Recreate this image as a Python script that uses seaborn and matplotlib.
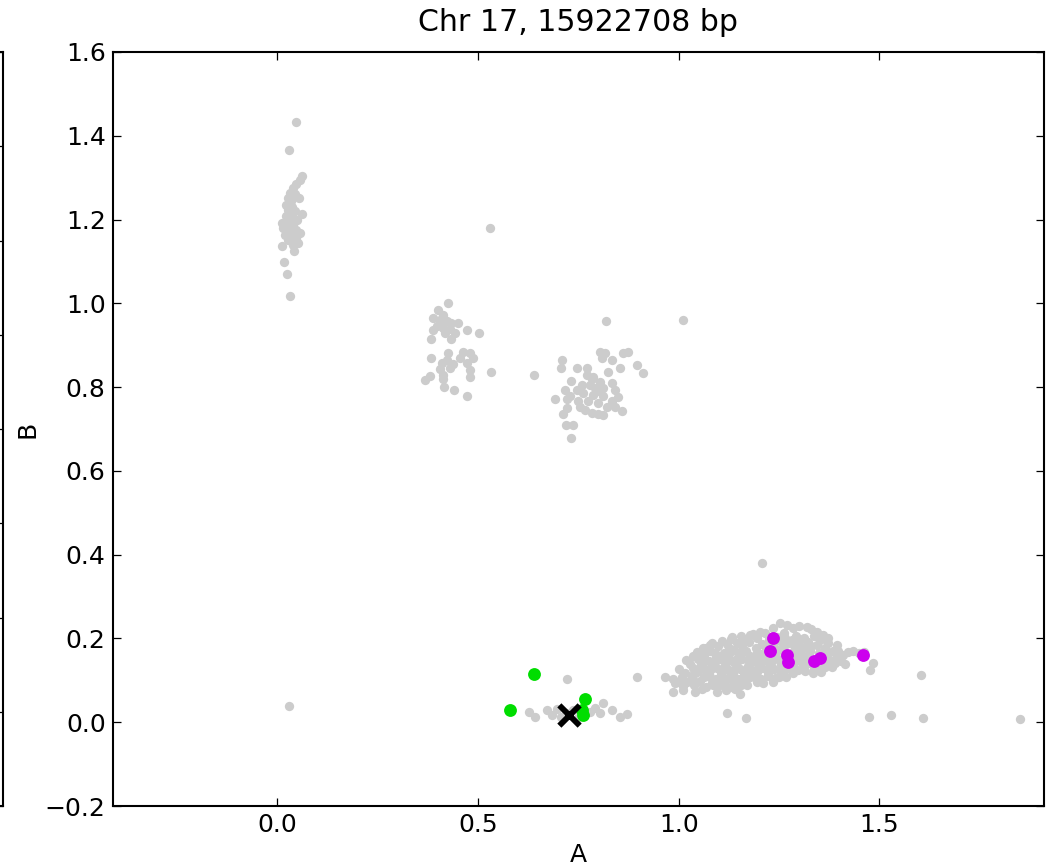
import matplotlib
matplotlib.use("Agg")
import matplotlib.pyplot as plt
import seaborn as sns
import pandas as pd

# ---------------- data ----------------
title_text = "Chr 17, 15922708 bp"
x_label = "A"
y_label = "B"
x_ticks = [0.0, 0.5, 1.0, 1.5]
y_ticks = [-0.2, 0.0, 0.2, 0.4, 0.6, 0.8, 1.0, 1.2, 1.4, 1.6]

cluster_top = [
    (0.047, 1.432), (0.029, 1.367), (0.063, 1.305), (0.057, 1.295), (0.048, 1.286),
    (0.040, 1.275), (0.032, 1.263), (0.027, 1.251), (0.055, 1.251), (0.023, 1.235),
    (0.036, 1.231), (0.027, 1.223), (0.063, 1.214), (0.023, 1.208), (0.036, 1.204),
    (0.011, 1.192), (0.023, 1.188), (0.040, 1.188), (0.015, 1.180), (0.032, 1.176),
    (0.048, 1.176), (0.058, 1.169), (0.019, 1.164), (0.036, 1.160), (0.048, 1.156),
    (0.027, 1.150), (0.052, 1.144), (0.013, 1.138), (0.040, 1.140), (0.042, 1.126),
    (0.018, 1.098), (0.025, 1.071), (0.031, 1.018), (0.030, 1.212), (0.045, 1.220),
    (0.035, 1.245), (0.050, 1.200), (0.040, 1.170), (0.030, 1.195), (0.044, 1.262),
]

cluster_mid = [
    (0.425, 1.000), (0.401, 0.983), (0.414, 0.973), (0.387, 0.965), (0.405, 0.961),
    (0.422, 0.957), (0.434, 0.954), (0.451, 0.953), (0.397, 0.945), (0.414, 0.941),
    (0.430, 0.939), (0.472, 0.937), (0.503, 0.930), (0.389, 0.937), (0.418, 0.929),
    (0.443, 0.929), (0.382, 0.915), (0.434, 0.915), (0.425, 0.881), (0.463, 0.883),
    (0.480, 0.881), (0.382, 0.869), (0.422, 0.865), (0.455, 0.869), (0.488, 0.869),
    (0.410, 0.857), (0.438, 0.856), (0.472, 0.857), (0.405, 0.843), (0.430, 0.845),
    (0.480, 0.841), (0.380, 0.827), (0.414, 0.829), (0.480, 0.825), (0.532, 0.835),
    (0.368, 0.816), (0.416, 0.800), (0.440, 0.794), (0.472, 0.779), (0.414, 0.819),
    (0.530, 1.180),
]

cluster_right = [
    (0.819, 0.959), (0.640, 0.829), (0.804, 0.883), (0.816, 0.881), (0.862, 0.881),
    (0.874, 0.885), (0.808, 0.869), (0.833, 0.864), (0.710, 0.865), (0.706, 0.845),
    (0.746, 0.845), (0.771, 0.845), (0.854, 0.845), (0.895, 0.853), (0.912, 0.834),
    (0.825, 0.837), (0.771, 0.829), (0.787, 0.825), (0.733, 0.815), (0.804, 0.813),
    (0.833, 0.811), (0.779, 0.806), (0.717, 0.794), (0.746, 0.794), (0.791, 0.798),
    (0.812, 0.798), (0.841, 0.794), (0.762, 0.786), (0.787, 0.782), (0.729, 0.779),
    (0.692, 0.771), (0.721, 0.771), (0.812, 0.778), (0.850, 0.776), (0.750, 0.766),
    (0.775, 0.766), (0.800, 0.763), (0.833, 0.766), (0.754, 0.752), (0.821, 0.752),
    (0.841, 0.752), (0.721, 0.750), (0.767, 0.746), (0.858, 0.744), (0.783, 0.739),
    (0.800, 0.736), (0.812, 0.734), (0.712, 0.736), (0.719, 0.710), (0.737, 0.710),
    (0.731, 0.678), (0.796, 0.790), (0.783, 0.820), (0.760, 0.805),
]

cluster_low = [
    (0.722, 0.103), (0.895, 0.109), (0.628, 0.025), (0.642, 0.013), (0.671, 0.029),
    (0.684, 0.017), (0.696, 0.031), (0.708, 0.013), (0.737, 0.029), (0.750, 0.010),
    (0.779, 0.025), (0.791, 0.033), (0.804, 0.021), (0.812, 0.045), (0.833, 0.029),
    (0.854, 0.013), (0.872, 0.020), (0.029, 0.039), (0.720, 0.022), (0.765, 0.020),
]

cluster_big = [
    (1.252, 0.236), (1.269, 0.232), (1.300, 0.229), (1.319, 0.228), (1.236, 0.226),
    (1.202, 0.216), (1.178, 0.208), (1.156, 0.206), (1.132, 0.204), (1.344, 0.216),
    (1.360, 0.209), (1.373, 0.201), (1.385, 0.169), (1.410, 0.161), (1.435, 0.169),
    (1.485, 0.141), (1.477, 0.125), (1.078, 0.185), (1.061, 0.177), (1.395, 0.185),
    (1.330, 0.222), (1.285, 0.226),
    (1.185, 0.211), (1.215, 0.213), (1.262, 0.214), (1.292, 0.207), (1.338, 0.205),
    (1.130, 0.198), (1.162, 0.197), (1.195, 0.201), (1.226, 0.199), (1.282, 0.196),
    (1.312, 0.202), (1.352, 0.196), (1.372, 0.188),
    (1.083, 0.188), (1.108, 0.193), (1.145, 0.189), (1.176, 0.192), (1.208, 0.186),
    (1.252, 0.193), (1.298, 0.188), (1.322, 0.191), (1.345, 0.184),
    (1.068, 0.176), (1.098, 0.181), (1.125, 0.178), (1.158, 0.182), (1.192, 0.177),
    (1.215, 0.181), (1.262, 0.183), (1.290, 0.176), (1.312, 0.179), (1.365, 0.178),
    (1.045, 0.168), (1.078, 0.171), (1.112, 0.166), (1.138, 0.172), (1.168, 0.169),
    (1.195, 0.165), (1.248, 0.172), (1.302, 0.167), (1.328, 0.171), (1.372, 0.166),
    (1.398, 0.171), (1.422, 0.168),
    (1.035, 0.158), (1.062, 0.161), (1.092, 0.157), (1.118, 0.162), (1.148, 0.156),
    (1.178, 0.159), (1.205, 0.162), (1.236, 0.156), (1.290, 0.161), (1.318, 0.157),
    (1.362, 0.159), (1.392, 0.154), (1.448, 0.165), (1.462, 0.168),
    (1.018, 0.148), (1.048, 0.151), (1.075, 0.146), (1.102, 0.150), (1.132, 0.147),
    (1.158, 0.152), (1.188, 0.146), (1.215, 0.149), (1.248, 0.151), (1.302, 0.146),
    (1.328, 0.141), (1.375, 0.148), (1.405, 0.146),
    (1.028, 0.138), (1.056, 0.136), (1.085, 0.141), (1.115, 0.137), (1.142, 0.139),
    (1.172, 0.135), (1.198, 0.140), (1.228, 0.137), (1.256, 0.139), (1.285, 0.136),
    (1.312, 0.132), (1.348, 0.136), (1.382, 0.133), (1.415, 0.138),
    (1.002, 0.127), (1.035, 0.129), (1.065, 0.126), (1.095, 0.130), (1.125, 0.125),
    (1.152, 0.128), (1.182, 0.124), (1.208, 0.129), (1.238, 0.126), (1.268, 0.128),
    (1.298, 0.124), (1.338, 0.126), (1.365, 0.131),
    (1.016, 0.117), (1.045, 0.119), (1.075, 0.115), (1.105, 0.118), (1.135, 0.114),
    (1.162, 0.118), (1.192, 0.113), (1.222, 0.117), (1.255, 0.115), (1.285, 0.117),
    (1.335, 0.117), (1.355, 0.121),
    (0.966, 0.107), (0.985, 0.104), (1.008, 0.108), (1.032, 0.105), (1.062, 0.107),
    (1.092, 0.104), (1.122, 0.106), (1.148, 0.103), (1.178, 0.107), (1.205, 0.104),
    (1.240, 0.106), (1.268, 0.109),
    (0.995, 0.097), (1.022, 0.095), (1.052, 0.098), (1.082, 0.094), (1.112, 0.097),
    (1.138, 0.094), (1.165, 0.098), (1.194, 0.097), (1.236, 0.097),
    (0.991, 0.093), (1.012, 0.086), (1.038, 0.088), (1.068, 0.085), (1.098, 0.087),
    (1.128, 0.084), (1.155, 0.088),
    (0.987, 0.073), (1.011, 0.077), (1.041, 0.073), (1.058, 0.079), (1.095, 0.073),
    (1.118, 0.077), (1.153, 0.067), (1.140, 0.080),
    (1.120, 0.021), (1.168, 0.010), (1.475, 0.012), (1.528, 0.017), (1.609, 0.010),
    (1.603, 0.112), (1.850, 0.007), (1.208, 0.381), (1.012, 0.961),
]

cluster_big_core = [
    (1.120, 0.186), (1.235, 0.184), (1.275, 0.188), (1.330, 0.183),
    (1.090, 0.166), (1.125, 0.163), (1.155, 0.167), (1.220, 0.166), (1.265, 0.163),
    (1.285, 0.168), (1.350, 0.165),
    (1.060, 0.144), (1.090, 0.147), (1.118, 0.145), (1.145, 0.143), (1.175, 0.146),
    (1.200, 0.150), (1.232, 0.145), (1.262, 0.146), (1.285, 0.149), (1.315, 0.150),
    (1.360, 0.143), (1.390, 0.142),
    (1.050, 0.124), (1.080, 0.127), (1.110, 0.124), (1.140, 0.127), (1.168, 0.123),
    (1.195, 0.121), (1.225, 0.125), (1.252, 0.123), (1.282, 0.127), (1.315, 0.122),
    (1.035, 0.112), (1.078, 0.109), (1.108, 0.111), (1.135, 0.108), (1.162, 0.111),
    (1.190, 0.108), (1.222, 0.110), (1.250, 0.107),
    (1.085, 0.090), (1.112, 0.089), (1.142, 0.091), (1.170, 0.090), (1.210, 0.093),
    (1.245, 0.203), (1.265, 0.202), (1.298, 0.199),
]

green_x = [0.640, 0.581, 0.767, 0.762, 0.758]
green_y = [0.115, 0.029, 0.056, 0.017, 0.030]

magenta_x = [1.236, 1.227, 1.271, 1.273, 1.338, 1.352, 1.460]
magenta_y = [0.201, 0.171, 0.160, 0.143, 0.147, 0.153, 0.161]

cross_x = [0.727]
cross_y = [0.018]

gray_color = "#cccccc"
green_color = "#00dd00"
magenta_color = "#cc00ee"

# ---------------- style ----------------
sns.set_theme(style="ticks", rc={
    "xtick.direction": "in", "ytick.direction": "in",
    "xtick.top": True, "ytick.right": True,
    "xtick.major.size": 4, "ytick.major.size": 4,
    "xtick.major.width": 0.6, "ytick.major.width": 0.6,
    "axes.linewidth": 1.0, "axes.edgecolor": "black",
    "xtick.color": "black", "ytick.color": "black",
    "font.size": 12, "xtick.labelsize": 12, "ytick.labelsize": 12,
    "axes.labelsize": 12, "axes.titlesize": 14.4,
    "text.color": "black", "axes.labelcolor": "black",
})
plt.rcParams["font.family"] = ["DejaVu Sans"]

W, H = 1046, 865
fig = plt.figure(figsize=(W / 150, H / 150), dpi=150)

ax_l, ax_r, ax_t, ax_b = 113, 1044, 52, 806
ax = fig.add_axes([ax_l / W, 1 - ax_b / H, (ax_r - ax_l) / W, (ax_b - ax_t) / H])

# partial neighbour axes cut by the left figure edge
ax0 = fig.add_axes([-500 / W, 1 - ax_b / H, 503 / W, (ax_b - ax_t) / H])
ax0.set_xlim(0, 1)
ax0.set_ylim(0, 8)
ax0.set_yticks(range(9))
ax0.set_xticks([])
ax0.tick_params(labelleft=False, labelright=False)

def frame(pts):
    return pd.DataFrame({"x": [p[0] for p in pts], "y": [p[1] for p in pts]})

gray_df = pd.concat([frame(cluster_top), frame(cluster_mid), frame(cluster_right),
                     frame(cluster_low), frame(cluster_big), frame(cluster_big_core)],
                    ignore_index=True)

sns.scatterplot(data=gray_df, x="x", y="y", color=gray_color, s=20,
                linewidth=0, ax=ax, zorder=2)
sns.scatterplot(x=green_x, y=green_y, color=green_color, s=38,
                linewidth=0, ax=ax, zorder=3)
sns.scatterplot(x=magenta_x, y=magenta_y, color=magenta_color, s=38,
                linewidth=0, ax=ax, zorder=3)
sns.scatterplot(x=cross_x, y=cross_y, color="black", marker="x", s=95,
                linewidth=2.8, ax=ax, zorder=4)

ax.set_xlim(-0.409, 1.910)
ax.set_ylim(-0.2, 1.6)
ax.set_xticks(x_ticks)
ax.set_yticks(y_ticks)
ax.set_xticklabels([f"{v:.1f}" for v in x_ticks])
ax.set_yticklabels([f"{v:.1f}".replace("-", "\u2212") for v in y_ticks])
ax.set_xlabel(x_label, labelpad=2.5)
ax.set_ylabel(y_label, labelpad=2.5)
ax.set_title(title_text, pad=10)

fig.savefig("out.png", dpi=150)
